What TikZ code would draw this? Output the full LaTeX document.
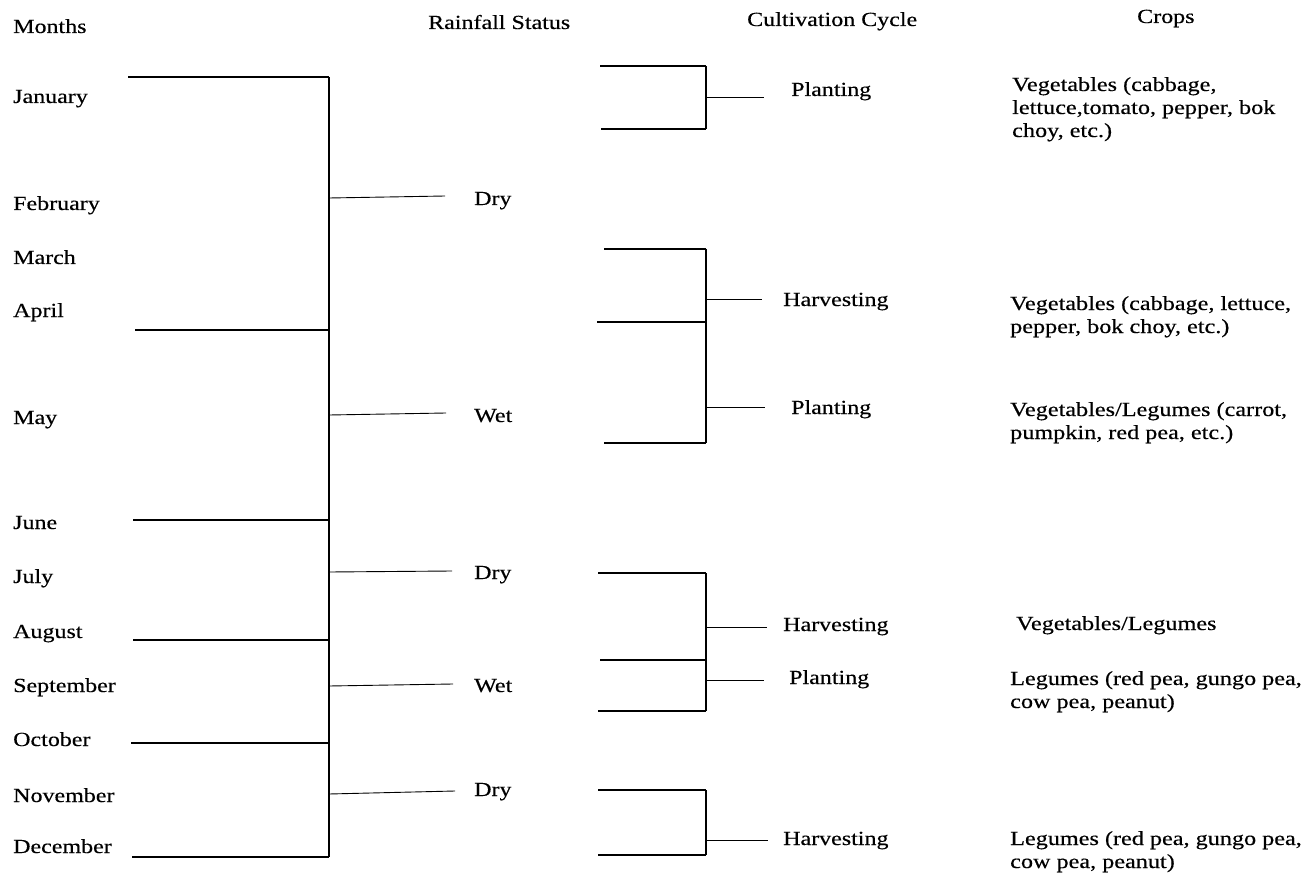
\documentclass[tikz,border=0pt]{standalone}
\usepackage{fontspec}
\setmainfont{Liberation Serif}[FakeStretch=1.2,FakeBold=0.4]
\newfontfamily\cropfont{Liberation Serif}[FakeStretch=1.21,FakeBold=0.4]

\begin{document}
\begin{tikzpicture}[x=1pt,y=-1pt,
        txt/.style={anchor=base west,inner sep=0pt,font=\fontsize{20}{23}\selectfont},
        crop/.style={txt,align=left,font=\cropfont\fontsize{20}{23}\selectfont},
        bar/.style={line width=2.6pt},
        spine/.style={line width=1.8pt},
        twig/.style={line width=0.9pt}]
    \useasboundingbox (0,0) rectangle (1314,877);
    % column heads
    \node[txt] (hmonth) at (13,33) {Months};
    \node[txt] (hrain) at (428,29) {Rainfall Status};
    \node[txt] (hcycle) at (747,26) {Cultivation Cycle};
    \node[txt] (hcrop) at (1137,23) {Crops};
    % months
    \node[txt] (jan) at (13,103) {January};
    \node[txt] (feb) at (13,210) {February};
    \node[txt] (mar) at (13,264) {March};
    \node[txt] (apr) at (13,317) {April};
    \node[txt] (may) at (13,424) {May};
    \node[txt] (jun) at (13,529) {June};
    \node[txt] (jul) at (13,583) {July};
    \node[txt] (aug) at (13,638) {August};
    \node[txt] (sep) at (13,692) {September};
    \node[txt] (oct) at (13,746) {October};
    \node[txt] (nov) at (13,802) {November};
    \node[txt] (dec) at (13,853) {December};
    % rainfall bracket
    \coordinate (rtop) at (329,77);
    \coordinate (rbot) at (329,857);
    \draw[spine] (rtop) -- (rbot);
    \draw[bar] (128,77) -- (rtop);
    \draw[bar] (135,330) -- (329,330);
    \draw[bar] (133,520) -- (329,520);
    \draw[bar] (133,640) -- (329,640);
    \draw[bar] (131,743) -- (329,743);
    \draw[bar] (132,857) -- (rbot);
    \node[txt] (dry1) at (474,205) {Dry};
    \node[txt] (wet1) at (474,422) {Wet};
    \node[txt] (dry2) at (474,579) {Dry};
    \node[txt] (wet2) at (474,692) {Wet};
    \node[txt] (dry3) at (474,796) {Dry};
    \draw[twig] (329,198) -- (445,196);
    \draw[twig] (329,415) -- (446,413);
    \draw[twig] (329,572) -- (452,571);
    \draw[twig] (329,686) -- (453,684);
    \draw[twig] (329,794) -- (455,791);
    % cultivation brackets
    \coordinate (c1top) at (706,66);
    \coordinate (c1bot) at (706,129);
    \draw[spine] (c1top) -- (c1bot);
    \draw[bar] (600,66) -- (c1top);
    \draw[bar] (601,129) -- (c1bot);
    \coordinate (c2top) at (706,249);
    \coordinate (c2bot) at (706,443);
    \draw[spine] (c2top) -- (c2bot);
    \draw[bar] (604,249) -- (c2top);
    \draw[bar] (597,322) -- (706,322);
    \draw[bar] (604,443) -- (c2bot);
    \coordinate (c3top) at (706,573);
    \coordinate (c3bot) at (706,711);
    \draw[spine] (c3top) -- (c3bot);
    \draw[bar] (598,573) -- (c3top);
    \draw[bar] (600,660) -- (706,660);
    \draw[bar] (598,711) -- (c3bot);
    \coordinate (c4top) at (706,790);
    \coordinate (c4bot) at (706,855);
    \draw[spine] (c4top) -- (c4bot);
    \draw[bar] (598,790) -- (c4top);
    \draw[bar] (598,855) -- (c4bot);
    \node[txt] (plant1) at (791,96) {Planting};
    \node[txt] (harv1) at (783,306) {Harvesting};
    \node[txt] (plant2) at (791,414) {Planting};
    \node[txt] (harv2) at (783,631) {Harvesting};
    \node[txt] (plant3) at (789,684) {Planting};
    \node[txt] (harv3) at (783,845) {Harvesting};
    \draw[twig] (706,97) -- (764,97);
    \draw[twig] (706,299) -- (762,299);
    \draw[twig] (706,407) -- (765,407);
    \draw[twig] (706,627) -- (767,627);
    \draw[twig] (706,680) -- (764,680);
    \draw[twig] (706,840) -- (768,840);
    % crops
    \node[crop] (crop1) at (1012,137) {Vegetables (cabbage,\\lettuce,tomato, pepper, bok\\choy, etc.)};
    \node[crop] (crop2) at (1010,333) {Vegetables (cabbage, lettuce,\\pepper, bok choy, etc.)};
    \node[crop] (crop3) at (1010,439) {Vegetables/Legumes (carrot,\\pumpkin, red pea, etc.)};
    \node[crop] (crop4) at (1016,630) {Vegetables/Legumes};
    \node[crop] (crop5) at (1010,708) {Legumes (red pea, gungo pea,\\cow pea, peanut)};
    \node[crop] (crop6) at (1010,868) {Legumes (red pea, gungo pea,\\cow pea, peanut)};
\end{tikzpicture}
\end{document}
